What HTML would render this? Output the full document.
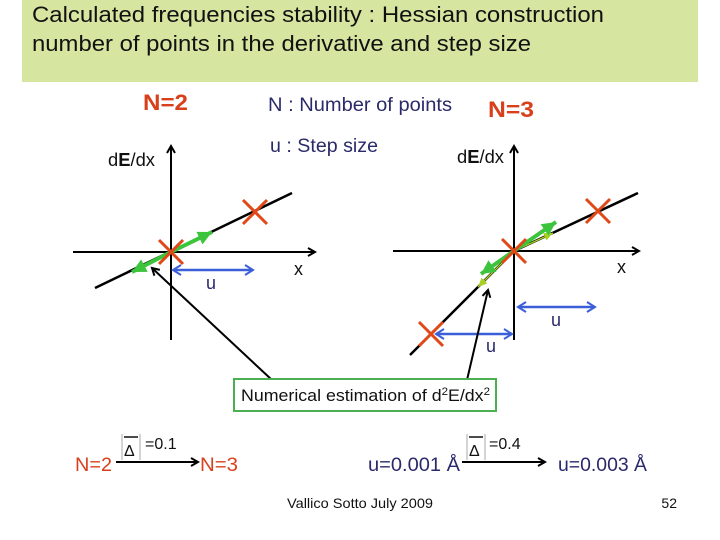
<!DOCTYPE html>
<html><head><meta charset="utf-8"><style>
body{margin:0;background:#fff}
svg{display:block;font-family:"Liberation Sans",sans-serif}
</style></head><body>
<svg width="720" height="540" viewBox="0 0 720 540" xmlns="http://www.w3.org/2000/svg">
<defs>
<marker id="ab" markerWidth="10" markerHeight="10" refX="8" refY="5" orient="auto" markerUnits="userSpaceOnUse"><path d="M1,1 L8,5 L1,9" fill="none" stroke="#000" stroke-width="2"/></marker>
<marker id="abl" markerWidth="12" markerHeight="12" refX="9" refY="6" orient="auto-start-reverse" markerUnits="userSpaceOnUse"><path d="M1,1 L9,6 L1,11" fill="none" stroke="#3a5fd8" stroke-width="2"/></marker>
<marker id="ag" markerWidth="16" markerHeight="14" refX="14" refY="7" orient="auto" markerUnits="userSpaceOnUse"><path d="M0,0 L14,7 L0,14 Z" fill="#3cc43c"/></marker>
<marker id="ay" markerWidth="10" markerHeight="10" refX="9" refY="5" orient="auto" markerUnits="userSpaceOnUse"><path d="M0,1 L9,5 L0,9 Z" fill="#a8d020"/></marker>
</defs>
<rect x="22" y="0" width="676" height="82" fill="#d6e5a0"/>
<text x="32" y="22" font-size="22" fill="#111" textLength="572" lengthAdjust="spacingAndGlyphs">Calculated frequencies stability : Hessian construction</text>
<text x="32" y="51" font-size="22" fill="#111" textLength="499" lengthAdjust="spacingAndGlyphs">number of points in the derivative and step size</text>

<text x="143" y="110" font-size="22" font-weight="bold" fill="#d8401c" textLength="45" lengthAdjust="spacingAndGlyphs">N=2</text>
<text x="268" y="111" font-size="19" fill="#2a2a6a" textLength="184" lengthAdjust="spacingAndGlyphs">N : Number of points</text>
<text x="488" y="117" font-size="22" font-weight="bold" fill="#d8401c" textLength="46" lengthAdjust="spacingAndGlyphs">N=3</text>
<text x="270" y="152" font-size="19" fill="#2a2a6a" textLength="108" lengthAdjust="spacingAndGlyphs">u : Step size</text>

<g>
<line x1="171" y1="340" x2="171" y2="146" stroke="#000" stroke-width="2" marker-end="url(#ab)"/>
<line x1="73" y1="252" x2="315" y2="252" stroke="#000" stroke-width="2" marker-end="url(#ab)"/>
<text x="108" y="166" font-size="18" fill="#111" textLength="47" lengthAdjust="spacingAndGlyphs">d<tspan font-weight="bold">E</tspan>/dx</text>
<text x="294" y="275" font-size="18" fill="#111">x</text>
<line x1="95" y1="288" x2="292" y2="193" stroke="#000" stroke-width="2.5"/>
<line x1="171" y1="252" x2="212" y2="232" stroke="#3cc43c" stroke-width="4" marker-end="url(#ag)"/>
<line x1="171" y1="252" x2="132" y2="272" stroke="#3cc43c" stroke-width="4" marker-end="url(#ag)"/>
<g stroke="#e04818" stroke-width="3"><line x1="159" y1="240" x2="183" y2="264"/><line x1="183" y1="240" x2="159" y2="264"/><line x1="243" y1="200" x2="267" y2="224"/><line x1="267" y1="200" x2="243" y2="224"/></g>
<line x1="173" y1="270" x2="253" y2="270" stroke="#3a5fd8" stroke-width="2.5" marker-start="url(#abl)" marker-end="url(#abl)"/>
<text x="206" y="289" font-size="18" fill="#2a2a6a">u</text>
</g>

<g>
<line x1="514" y1="340" x2="514" y2="146" stroke="#000" stroke-width="2" marker-end="url(#ab)"/>
<line x1="393" y1="251" x2="639" y2="251" stroke="#000" stroke-width="2" marker-end="url(#ab)"/>
<text x="457" y="163" font-size="18" fill="#111" textLength="47" lengthAdjust="spacingAndGlyphs">d<tspan font-weight="bold">E</tspan>/dx</text>
<text x="617" y="273" font-size="18" fill="#111">x</text>
<polyline points="410,355 514,251 638,193" fill="none" stroke="#000" stroke-width="2.5"/>
<line x1="514" y1="251" x2="553" y2="233" stroke="#a8d020" stroke-width="1.5" marker-end="url(#ay)"/>
<line x1="514" y1="251" x2="478" y2="287" stroke="#a8d020" stroke-width="1.5" marker-end="url(#ay)"/>
<line x1="514" y1="251" x2="556" y2="222" stroke="#3cc43c" stroke-width="4" marker-end="url(#ag)"/>
<line x1="514" y1="251" x2="481" y2="274" stroke="#3cc43c" stroke-width="4" marker-end="url(#ag)"/>
<g stroke="#e04818" stroke-width="3"><line x1="502" y1="239" x2="526" y2="263"/><line x1="526" y1="239" x2="502" y2="263"/><line x1="586" y1="199" x2="610" y2="223"/><line x1="610" y1="199" x2="586" y2="223"/><line x1="419" y1="322" x2="443" y2="346"/><line x1="443" y1="322" x2="419" y2="346"/></g>
<line x1="518" y1="307" x2="595" y2="307" stroke="#3a5fd8" stroke-width="2.5" marker-start="url(#abl)" marker-end="url(#abl)"/>
<text x="551" y="326" font-size="18" fill="#2a2a6a">u</text>
<line x1="436" y1="334" x2="512" y2="334" stroke="#3a5fd8" stroke-width="2.5" marker-start="url(#abl)" marker-end="url(#abl)"/>
<text x="486" y="352" font-size="18" fill="#2a2a6a">u</text>
</g>

<line x1="272" y1="380" x2="152" y2="268" stroke="#000" stroke-width="2" marker-end="url(#ab)"/>
<line x1="467" y1="380" x2="488" y2="290" stroke="#000" stroke-width="2" marker-end="url(#ab)"/>
<rect x="234" y="379" width="262" height="32" fill="#fff" stroke="#4caf50" stroke-width="2"/>
<text x="241" y="401" font-size="17" fill="#111" textLength="249" lengthAdjust="spacingAndGlyphs">Numerical estimation of d<tspan font-size="11" dy="-6">2</tspan><tspan dy="6">E/dx</tspan><tspan font-size="11" dy="-6">2</tspan></text>

<g>
<text x="75" y="471" font-size="19" fill="#d8401c" textLength="37" lengthAdjust="spacingAndGlyphs">N=2</text>
<line x1="116" y1="462" x2="198" y2="462" stroke="#000" stroke-width="2" marker-end="url(#ab)"/>
<line x1="122" y1="434" x2="122" y2="460" stroke="#aaa"/><line x1="140" y1="434" x2="140" y2="460" stroke="#aaa"/>
<line x1="124" y1="437" x2="138" y2="437" stroke="#111" stroke-width="1.5"/>
<text x="124" y="456" font-size="16" fill="#111">Δ</text>
<text x="145" y="449" font-size="16" fill="#111">=0.1</text>
<text x="200" y="471" font-size="19" fill="#d8401c" textLength="38" lengthAdjust="spacingAndGlyphs">N=3</text>
</g>
<g>
<text x="368" y="471" font-size="19" fill="#2a2a6a" textLength="92" lengthAdjust="spacingAndGlyphs">u=0.001 Å</text>
<line x1="462" y1="462" x2="545" y2="462" stroke="#000" stroke-width="2" marker-end="url(#ab)"/>
<line x1="467" y1="434" x2="467" y2="460" stroke="#aaa"/><line x1="485" y1="434" x2="485" y2="460" stroke="#aaa"/>
<line x1="469" y1="437" x2="483" y2="437" stroke="#111" stroke-width="1.5"/>
<text x="469" y="456" font-size="16" fill="#111">Δ</text>
<text x="489" y="449" font-size="16" fill="#111">=0.4</text>
<text x="558" y="471" font-size="19" fill="#2a2a6a" textLength="89" lengthAdjust="spacingAndGlyphs">u=0.003 Å</text>
</g>
<text x="287" y="508" font-size="14" fill="#111" textLength="146" lengthAdjust="spacingAndGlyphs">Vallico Sotto  July 2009</text>
<text x="677" y="508" font-size="14" fill="#111" text-anchor="end">52</text>
</svg>
</body></html>
